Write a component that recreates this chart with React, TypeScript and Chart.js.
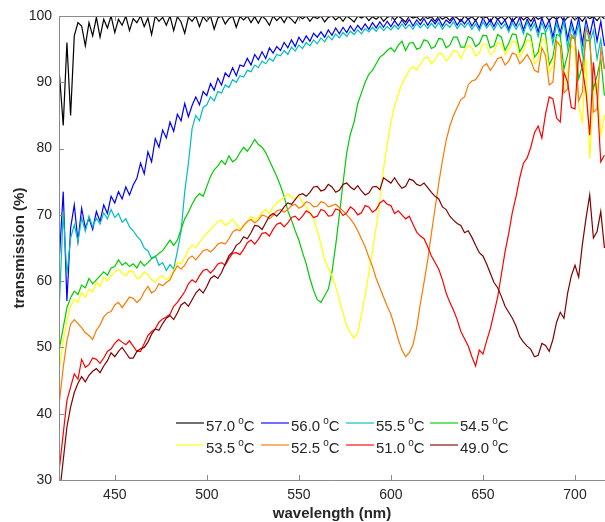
import { useEffect, useRef } from 'react';
import { Chart, registerables } from 'chart.js';

Chart.register(...registerables);

// wavelength samples (nm)
const WAVELENGTH = [
  420, 422, 424, 426, 428, 430, 432, 434, 436, 438,
  440, 442, 444, 446, 448, 450, 452, 454, 456, 458,
  460, 462, 464, 466, 468, 470, 472, 474, 476, 478,
  480, 482, 484, 486, 488, 490, 492, 494, 496, 498,
  500, 502, 504, 506, 508, 510, 512, 514, 516, 518,
  520, 522, 524, 526, 528, 530, 532, 534, 536, 538,
  540, 542, 544, 546, 548, 550, 552, 554, 556, 558,
  560, 562, 564, 566, 568, 570, 572, 574, 576, 578,
  580, 582, 584, 586, 588, 590, 592, 594, 596, 598,
  600, 602, 604, 606, 608, 610, 612, 614, 616, 618,
  620, 622, 624, 626, 628, 630, 632, 634, 636, 638,
  640, 642, 644, 646, 648, 650, 652, 654, 656, 658,
  660, 662, 664, 666, 668, 670, 672, 674, 676, 678,
  680, 682, 684, 686, 688, 690, 692, 694, 696, 698,
  700, 702, 704, 706, 708, 710, 712, 714, 716,
];

// transmission (%) per temperature
const T57_0 = [
  91, 83.5, 96, 85, 97, 99, 98.5, 95.5, 99, 97,
  99.8, 96.8, 99.5, 98.2, 100, 97.5, 99.5, 98.6, 100, 97.8,
  99.6, 99, 100, 98.4, 99.7, 97.2, 100, 99.2, 99.8, 98.6,
  100, 97.8, 99.9, 99.1, 97.4, 99.8, 99.2, 100, 98.4, 99.9,
  99.2, 100, 98, 99.7, 100, 98.8, 99.6, 100, 98.3, 99.9,
  99.4, 100, 99, 99.9, 98.9, 100, 99.5, 98.6, 100, 99.3,
  99.9, 99, 100, 99.5, 98.9, 100, 99.6, 100, 99.2, 99.9,
  99.6, 100, 99.1, 99.8, 100, 99.4, 99.9, 99.2, 100, 99.6,
  99.1, 100, 99.7, 100, 99.3, 99.9, 99.5, 100, 99.2, 99.8,
  100, 99.4, 100, 99.6, 99.1, 100, 99.7, 99.9, 99.3, 100,
  99.6, 99.9, 99.2, 100, 99.5, 99.9, 99.3, 100, 99.7, 99.2,
  100, 99.5, 99.9, 99.3, 100, 99.6, 99.9, 99.1, 100, 99.5,
  99.9, 99.4, 100, 99.2, 99.8, 100, 99.4, 99.9, 99.2, 100,
  99.5, 99.8, 100, 99.3, 99.9, 99.5, 100, 99.2, 99.8, 100,
  99.4, 99.9, 99.2, 100, 99.6, 99.9, 99.3, 100, 99.6,
];
const T56_0 = [
  64, 73.5, 57, 68, 71.5, 66, 71, 68, 69.5, 67.8,
  70.5, 69, 71.5, 70.2, 72.8, 71.8, 73.5, 72.4, 74.2, 73,
  74.5, 75.5, 77.8, 76.2, 79.5, 78, 81.5, 80.2, 82.8, 81.6,
  84, 82.6, 85.2, 84.2, 86.8, 84.8, 86.5, 87.8, 86.6, 88.6,
  88, 89.8, 88.8, 90.6, 89.6, 91.4, 90.8, 92.2, 91, 92.6,
  92.4, 93.6, 92.6, 94.2, 93.4, 94.6, 93.6, 95.2, 94.4, 95.4,
  94.8, 96, 95.2, 96.4, 95.4, 96.8, 96, 97, 96.2, 97.4,
  96.8, 97.6, 96.8, 97.9, 97.1, 98.2, 97.3, 98.3, 97.5, 98.5,
  97.7, 98.6, 97.9, 98.8, 98, 99, 98.2, 99.1, 98.3, 99.2,
  98.4, 99.3, 98.5, 99.4, 98.6, 99.5, 98.5, 99.4, 98.7, 99.6,
  98.6, 99.5, 98.8, 99.6, 98.5, 99.4, 98.9, 99.7, 98.6, 99.5,
  98.8, 99.6, 98.5, 99.4, 98.2, 99.7, 98.6, 99.5, 98.4, 99.6,
  98.7, 99.4, 98, 99.6, 98.5, 99.8, 97.9, 99.5, 98.4, 99.6,
  97.6, 99.7, 98.2, 99.4, 96.8, 99.6, 97.5, 99.8, 96.5, 99.3,
  97.2, 99.7, 95.8, 99.4, 97, 99.6, 96.2, 99.2, 95.5,
];
const T55_5 = [
  57, 70.5, 61, 66.5, 68.5, 66, 69.5, 67.5, 69.8, 68.2,
  69.5, 68.6, 70.3, 69.4, 70.8, 69.6, 70.2, 68.9, 69.4, 68.2,
  67.6, 66.8, 66.2, 65, 64.6, 63.4, 63.8, 62.4, 62.8, 61.6,
  62.5, 61.8, 64.5, 67.5, 73.5, 77.8, 83, 85, 84.2, 86.2,
  86.6, 87.8, 87.2, 88.6, 88.4, 89.6, 89.2, 90.4, 90, 91,
  90.8, 91.8, 91.6, 92.6, 92.2, 93.2, 92.8, 93.6, 93.2, 94.2,
  94, 94.8, 94.2, 95.3, 94.7, 95.6, 95.1, 96, 95.5, 96.4,
  95.8, 96.7, 96.1, 97, 96.4, 97.3, 96.7, 97.5, 96.9, 97.7,
  97.2, 97.9, 97.3, 98.1, 97.6, 98.3, 97.7, 98.5, 97.8, 98.4,
  97.9, 98.6, 98, 98.8, 98.1, 98.7, 98, 98.9, 98.2, 98.8,
  98.1, 98.9, 98.2, 99, 98, 98.8, 98.3, 99.1, 98.1, 98.9,
  98.3, 99, 98, 98.8, 97.8, 99.1, 98.2, 98.9, 97.9, 99,
  98.1, 98.8, 97.6, 99, 98, 98.9, 97.3, 99.1, 97.8, 98.8,
  96.9, 99, 97.5, 98.7, 95.8, 98.9, 96.8, 99.1, 95.2, 98.5,
  96.4, 98.8, 94.2, 98.5, 96, 97.8, 93.5, 96.5, 92,
];
const T54_5 = [
  50, 53, 56, 57.5, 58.5, 58, 59.4, 59, 60.4, 59.6,
  60.2, 60.8, 61.4, 60.9, 62, 62.2, 63.2, 62.4, 62.8, 62.2,
  62.6, 62, 63, 62.3, 62.8, 63.4, 63.7, 64.2, 64.6, 65.4,
  66.2, 65.4, 66.2, 67.8, 69.4, 70.4, 71.6, 72.6, 73.2, 72.8,
  74.3, 75.8, 76.8, 77.4, 78.2, 77.6, 78.9, 78, 78.4, 79.4,
  80.2, 79.6, 80.4, 81.4, 80.6, 80.2, 79.4, 78.2, 77, 75.8,
  74.4, 72.8, 70.6, 69.2, 67.6, 66.2, 64.3, 62.6, 60.4, 58.6,
  57.2, 56.8, 57.8, 58.8, 61.4, 65.4, 70, 74.8, 79.4, 82.2,
  84, 86.8, 88.4, 90, 91.2, 91.8, 92.8, 93.8, 94.2, 94.8,
  95.2, 94.6, 95.6, 96.2, 94.8, 95.9, 96, 95, 95.2, 96.4,
  96.2, 95.1, 95.4, 96.6, 96.5, 95.2, 95.6, 96.8, 96.8, 95.3,
  95.3, 96.9, 96.6, 95.4, 95.8, 97.1, 97, 95.2, 95.5, 97.2,
  96.8, 94.8, 95.9, 97.3, 97.2, 94.6, 95.6, 97.4, 97, 93.8,
  94.5, 97.4, 97.3, 92.6, 93.8, 97.2, 97, 92, 94.2, 96.8,
  96.5, 90.5, 92.5, 96.4, 96.2, 89, 91, 93.5, 88,
];
const T53_5 = [
  47, 51, 54, 56.2, 57.2, 56.8, 58.3, 57.6, 58.8, 58.4,
  59.8, 59.2, 60.6, 60, 60.8, 61.4, 61.8, 61.2, 60.8, 61.6,
  61.4, 60.4, 60.6, 61.4, 61, 60.2, 59.8, 60.6, 60.8, 60.2,
  60.6, 61.6, 62.8, 62.6, 63.6, 64.8, 65.4, 65, 65.8, 66.6,
  67.2, 67.8, 68.4, 69, 69.2, 68.4, 68.8, 69.4, 68.6, 67.8,
  68.2, 69, 69.8, 69.2, 69.6, 70.4, 70.8, 70.2, 71.2, 71.8,
  72.2, 72.6, 73.2, 72.6, 72.4, 73, 71.8, 71.2, 70.4, 69.4,
  67.6, 65.6, 63.2, 62, 60.8, 59.2, 57.2, 55.2, 53.2, 52.2,
  51.4, 52.2, 55, 57.8, 61.2, 64.6, 68.2, 72.4, 77, 80.6,
  84, 86.4, 88.2, 89.8, 90.8, 91.8, 92.4, 91.8, 92.8, 93.6,
  93.8, 92.8, 93.4, 94.4, 94.3, 93.2, 93.8, 94.8, 94.6, 93.6,
  94.8, 95.6, 95.2, 94, 94.4, 95.8, 95.5, 94.2, 94.6, 96,
  95.8, 94.2, 94.9, 96.2, 96, 93.8, 94.8, 96.4, 96.2, 92.8,
  93.5, 96.5, 96.3, 91.4, 92.5, 96.2, 95.8, 89.2, 91.5, 95.5,
  95, 86.5, 84, 93.5, 78.5, 88, 90, 82, 85,
];
const T52_5 = [
  42, 47, 51, 53.5, 54.2, 53.6, 53, 52.2, 51.8, 51.2,
  52.6, 53.4, 54.6, 55.2, 55.4, 56.4, 56.8, 56, 56.8, 57.6,
  57.4, 56.8, 57.3, 58.4, 59.2, 58.2, 58.6, 59.6, 59.3, 59.8,
  60.2, 61.4, 62.3, 61.8, 62.4, 63.4, 63.8, 63.2, 63.9, 64.6,
  64.8, 64.4, 64.9, 65.6, 65.8, 65.6, 66.4, 67.4, 67.8, 67.6,
  68.4, 69, 69.3, 68.8, 69.2, 70, 69.8, 69.4, 69.9, 70.6,
  70.8, 70.4, 70.8, 71.4, 71.6, 71, 71.3, 72, 71.8, 71.2,
  71.3, 72, 71.8, 71.2, 71.4, 71.6, 71.1, 70.6, 70, 69.4,
  68.6, 67.6, 66.4, 65.2, 63.6, 62.2, 60.4, 59, 57.6, 56.2,
  55, 53.2, 51.2, 49.6, 48.6, 49.2, 50.4, 53, 56.6, 59.8,
  63.2, 67.2, 71, 74.8, 78.2, 81.2, 83.4, 85, 86.2, 87.4,
  87.8, 89.6, 90.2, 90.4, 91.2, 92.4, 92.8, 91.8, 92.6, 93.6,
  93.8, 92.6, 93.2, 94.4, 94.2, 92.8, 93.4, 94.2, 93.2, 91.8,
  91.5, 95.2, 94, 89.6, 90, 96.2, 95.5, 88.4, 89, 97.2,
  96.5, 87.2, 88.5, 98, 97, 85.5, 86, 95, 92,
];
const T51_0 = [
  32, 37, 42, 44, 46, 45.2, 48.2, 47, 47.4, 48.4,
  48.2, 47.6, 48.4, 49.4, 49.8, 50.6, 51.2, 50.8, 50.4, 51,
  50.2, 49.4, 49.4, 50.6, 51.8, 52.4, 52.8, 53.8, 54.3, 54.6,
  55, 56.2, 56.8, 57.6, 58.4, 59.6, 60.2, 59.8, 60.8, 61.6,
  61.8, 61.2, 61.8, 62.6, 62.8, 62.4, 63.4, 64.2, 64.3, 64,
  64.8, 65.8, 66.2, 65.6, 66.3, 67.2, 67.3, 66.8, 67.8, 68.6,
  68.8, 68.2, 68.8, 69.6, 69.8, 69.2, 69.8, 70.6, 70.3, 69.6,
  69.8, 70.8, 70.6, 69.8, 69.9, 70.9, 70.7, 69.9, 70.3, 71.2,
  70.8, 70, 70.3, 71.4, 71.2, 70.4, 70.8, 71.8, 72.2, 71.6,
  71.4, 70.2, 70.6, 70, 69.4, 69.8, 68.6, 67.4, 66.8, 66.4,
  65.2, 63.8, 62.8, 61.8, 60.2, 58.2, 56.8, 55.6, 54.2, 52.4,
  51.3, 50.2, 48.6, 47.2, 49.6, 49, 51, 52.8, 55.2, 57.6,
  61, 64.4, 67.2, 70.4, 72.8, 75.6, 77.8, 78.6, 80.2, 82.4,
  83.4, 81.6, 85.2, 87.8, 87.5, 84.6, 84, 91.5, 90, 86.2,
  86, 94.5, 92, 88.5, 82, 93, 88, 78, 79,
];
const T49_0 = [
  28, 33, 38, 41, 43.2, 44.6, 45.6, 44.8, 45.8, 46.4,
  46.8, 46.2, 47.2, 48, 49.2, 48.6, 49.4, 50, 49.2, 48.4,
  48.4, 49.4, 49.8, 50, 50.8, 52, 52.8, 52.6, 53.6, 54.4,
  54.8, 54.2, 55.2, 56.4, 56.8, 56.2, 57.2, 58.2, 58.8, 58.2,
  59.2, 60.4, 60.8, 60.4, 61.3, 62.6, 63.8, 64.4, 65.4, 65.8,
  66.7, 66.4, 67.3, 68.4, 68.3, 67.8, 68.8, 69.8, 70.2, 69.8,
  70.4, 71.2, 71.8, 71.6, 72.3, 73, 73.2, 72.8, 73.4, 74.2,
  74.3, 73.6, 73.8, 74.6, 74.2, 73.4, 73.7, 74.6, 74.8, 74.2,
  73.8, 74.4, 73.6, 73, 73.3, 74.2, 74.3, 73.8, 75.6, 75.2,
  74.8, 75.6, 74.7, 74, 74.3, 75.4, 75.2, 74.6, 74.4, 74.8,
  74.1, 73.4, 72.8, 72.4, 71.2, 70.8, 69.8, 69.2, 68.7, 68.4,
  67.3, 67.6, 66.6, 65.4, 64.3, 63.8, 62.6, 61.2, 59.8, 59,
  57.7, 56.2, 55.3, 54.4, 53.2, 51.6, 50.8, 50.2, 49.7, 48.6,
  48.8, 50.6, 50.3, 49.4, 51.2, 53.8, 55.3, 54.4, 58.2, 60.8,
  62.4, 60.6, 65.5, 69.5, 73, 66.5, 67.5, 70.5, 65,
];

const SERIES = [T57_0, T56_0, T55_5, T54_5, T53_5, T52_5, T51_0, T49_0];
const TEMPS = ['57.0', '56.0', '55.5', '54.5', '53.5', '52.5', '51.0', '49.0'];
const X_TICKS = [450, 500, 550, 600, 650, 700];
const Y_TICKS = [30, 40, 50, 60, 70, 80, 90, 100];
const X_TITLE = 'wavelength (nm)';
const Y_TITLE = 'transmission (%)';

const COLORS = [
  'rgb(0,0,0)',
  'rgb(0,0,255)',
  'rgb(0,190,190)',
  'rgb(0,204,0)',
  'rgb(255,255,0)',
  'rgb(255,120,0)',
  'rgb(255,0,0)',
  'rgb(128,0,0)',
];

const FONT = '"Liberation Sans", Arial, Helvetica, sans-serif';
const TEXT_COLOR = '#262626';
const AXIS_COLOR = '#8a8a8a';

export default function App() {
  const ref = useRef<HTMLCanvasElement>(null);

  useEffect(() => {
    const canvas = ref.current;
    if (!canvas) return;

    const datasets = SERIES.map((vals, i) => ({
      label: TEMPS[i] + ' °C',
      data: WAVELENGTH.map((w, j) => ({ x: w, y: vals[j] })),
      borderColor: COLORS[i],
      backgroundColor: COLORS[i],
      borderWidth: 1.2,
      pointRadius: 0,
      tension: 0,
      fill: false,
      order: SERIES.length - 1 - i,
    }));

    const matlabAxes = {
      id: 'matlabAxes',
      afterDraw(chart: any) {
        const { ctx, chartArea: a, scales } = chart;
        ctx.save();
        ctx.strokeStyle = AXIS_COLOR;
        ctx.lineWidth = 1;
        ctx.beginPath();
        ctx.moveTo(a.left + 0.5, a.top + 0.5);
        ctx.lineTo(a.right, a.top + 0.5);
        ctx.moveTo(a.left + 0.5, a.top);
        ctx.lineTo(a.left + 0.5, a.bottom + 0.5);
        ctx.lineTo(a.right, a.bottom + 0.5);
        ctx.stroke();
        ctx.beginPath();
        X_TICKS.forEach((v) => {
          const px = Math.round(scales.x.getPixelForValue(v)) + 0.5;
          ctx.moveTo(px, a.bottom);
          ctx.lineTo(px, a.bottom - 5);
          ctx.moveTo(px, a.top);
          ctx.lineTo(px, a.top + 5);
        });
        Y_TICKS.forEach((v) => {
          const py = Math.round(scales.y.getPixelForValue(v)) + 0.5;
          ctx.moveTo(a.left, py);
          ctx.lineTo(a.left + 5, py);
        });
        ctx.stroke();

        ctx.fillStyle = TEXT_COLOR;
        ctx.font = `bold 15px ${FONT}`;
        ctx.textAlign = 'center';
        ctx.textBaseline = 'alphabetic';
        ctx.fillText(X_TITLE, (a.left + a.right) / 2, 518);
        ctx.save();
        ctx.translate(24, (a.top + a.bottom) / 2);
        ctx.rotate(-Math.PI / 2);
        ctx.fillText(Y_TITLE, 0, 0);
        ctx.restore();

        const colX = [176, 261, 346, 430];
        const rowY = [423, 445];
        ctx.textAlign = 'left';
        TEMPS.forEach((t, i) => {
          const lx = colX[i % 4];
          const ly = rowY[Math.floor(i / 4)];
          ctx.globalAlpha = 0.75;
          ctx.strokeStyle = COLORS[i];
          ctx.lineWidth = 1.5;
          ctx.beginPath();
          ctx.moveTo(lx, ly);
          ctx.lineTo(lx + 28, ly);
          ctx.stroke();
          ctx.globalAlpha = 1;
          ctx.fillStyle = TEXT_COLOR;
          ctx.font = `15px ${FONT}`;
          let tx = lx + 30;
          const base = ly + 8;
          ctx.fillText(t, tx, base);
          tx += ctx.measureText(t).width + 3;
          ctx.font = `10px ${FONT}`;
          ctx.fillText('o', tx, base - 7);
          tx += ctx.measureText('o').width;
          ctx.font = `15px ${FONT}`;
          ctx.fillText('C', tx, base);
        });
        ctx.restore();
      },
    };

    const chart = new Chart(canvas, {
      type: 'line',
      data: { datasets },
      options: {
        animation: false,
        responsive: false,
        devicePixelRatio: 1,
        layout: { padding: { top: 16, right: 0, left: 0, bottom: 0 } },
        plugins: {
          legend: { display: false },
          tooltip: { enabled: false },
        },
        scales: {
          x: {
            type: 'linear',
            min: 419.7,
            max: 716.3,
            grid: { display: false, drawTicks: false },
            border: { display: false },
            afterBuildTicks: (s: any) => {
              s.ticks = X_TICKS.map((v) => ({ value: v }));
            },
            afterFit: (s: any) => {
              s.height = 42;
            },
            ticks: {
              color: TEXT_COLOR,
              font: { family: FONT, size: 14 },
              padding: 7,
              maxRotation: 0,
              autoSkip: false,
              callback: (v: any) => String(v),
            },
          },
          y: {
            type: 'linear',
            min: 30,
            max: 100,
            grid: { display: false, drawTicks: false },
            border: { display: false },
            afterBuildTicks: (s: any) => {
              s.ticks = Y_TICKS.map((v) => ({ value: v }));
            },
            afterFit: (s: any) => {
              s.width = 59;
            },
            ticks: {
              color: TEXT_COLOR,
              font: { family: FONT, size: 14 },
              padding: 7,
              callback: (v: any) => String(v),
            },
          },
        },
      },
      plugins: [matlabAxes],
    });

    return () => chart.destroy();
  }, []);

  return (
    <div style={{ position: 'fixed', left: 0, top: 0, width: 605, height: 522, background: '#fff' }}>
      <canvas ref={ref} width={605} height={522} style={{ display: 'block' }} />
    </div>
  );
}
